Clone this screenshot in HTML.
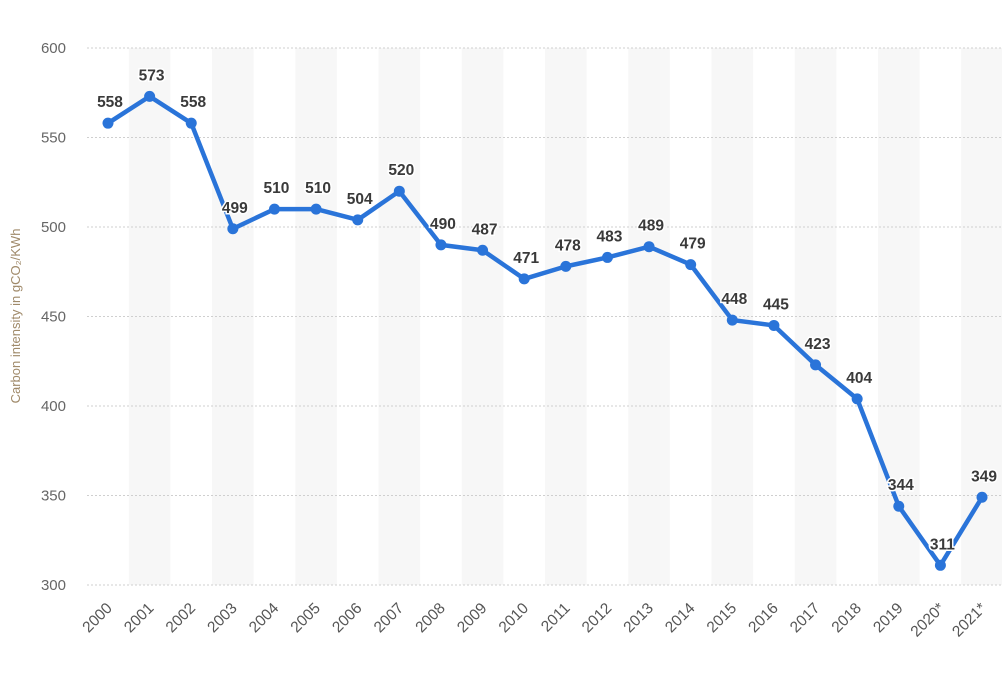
<!DOCTYPE html>
<html><head><meta charset="utf-8"><style>
body{margin:0;background:#fff;width:1002px;height:668px;overflow:hidden;font-family:"Liberation Sans",sans-serif}
</style></head><body>
<svg id="chart" width="1002" height="668" xmlns="http://www.w3.org/2000/svg">
<text transform="translate(20,316) rotate(-90)" text-anchor="middle" font-size="13" fill="#a08a6a">Carbon intensity in gCO₂/KWh</text>
<g id="bands"></g><g id="grid"></g><g id="yticks"></g><g id="xticks"></g><g id="series"></g><g id="labels"></g>
</svg>
<script>
const years=["2000","2001","2002","2003","2004","2005","2006","2007","2008","2009","2010","2011","2012","2013","2014","2015","2016","2017","2018","2019","2020*","2021*"];
const values=[558,573,558,499,510,510,504,520,490,487,471,478,483,489,479,448,445,423,404,344,311,349];
const yTicks=[300,350,400,450,500,550,600];
const NS="http://www.w3.org/2000/svg";
const x0=108,step=41.62,left=87,right=1002;
const X=i=>x0+i*step;
const Y=v=>585-(v-300)*(537/300);
function mk(t,a,p){const e=document.createElementNS(NS,t);for(const k in a)e.setAttribute(k,a[k]);p.appendChild(e);return e;}
const bands=document.getElementById('bands');
years.forEach((y,i)=>{if(i%2==1){const r=mk('rect',{x:X(i)-step/2,y:48,width:step,height:537,fill:'#f7f7f7'},bands);

}});
const grid=document.getElementById('grid'),yt=document.getElementById('yticks');
yTicks.forEach(v=>{const l=mk('line',{x1:left,x2:right,y1:Y(v),y2:Y(v),stroke:'#cfcfcf','stroke-dasharray':'2,2'},grid);


const t=mk('text',{x:66,y:Y(v)+5,'text-anchor':'end','font-size':'15',fill:'#666'},yt);t.textContent=v;

});
const xt=document.getElementById('xticks');
years.forEach((y,i)=>{const t=mk('text',{transform:`translate(${X(i)+5},${609}) rotate(-45)`,'text-anchor':'end','font-size':'15.5',fill:'#555'},xt);t.textContent=y;

});
const s=document.getElementById('series');
const pl=mk('polyline',{points:values.map((v,i)=>X(i)+','+Y(v)).join(' '),fill:'none',stroke:'#2a74d9','stroke-width':'4.5','stroke-linejoin':'round'},s);


const lb=document.getElementById('labels');
values.forEach((v,i)=>{const c=mk('circle',{cx:X(i),cy:Y(v),r:5.5,fill:'#2a74d9'},s);


const t=mk('text',{x:X(i)+2,y:Y(v)-16,'text-anchor':'middle','font-size':'15.5','font-weight':'bold',fill:'#3a3a3a',stroke:'#fff','stroke-width':'3','paint-order':'stroke'},lb);t.textContent=v;

});
</script>
</body></html>
